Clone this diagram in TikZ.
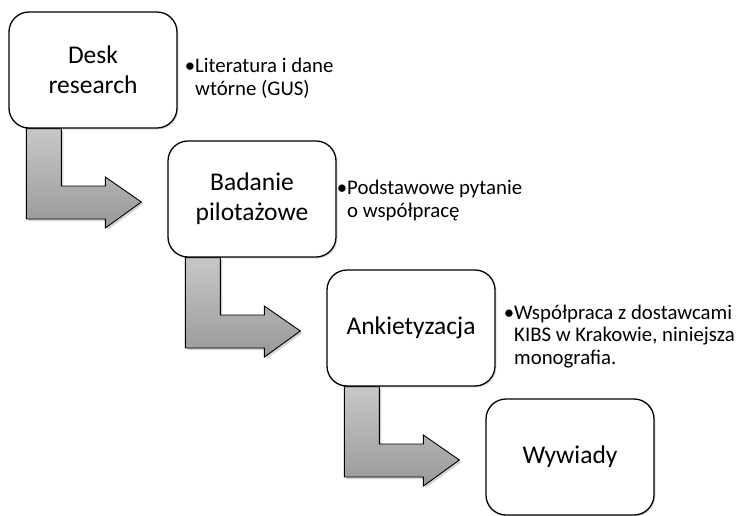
\documentclass[tikz,border=0pt]{standalone}
\usepackage{fontspec}
\setmainfont{Carlito}
\usetikzlibrary{calc,shadows,backgrounds}

% zagięta strzałka od dołu pola #1 do lewego boku pola #2
\newcommand{\strzalka}[2]{%
  \begin{pgfonlayer}{background}
    \path let \p1=(#1.south west), \p2=(#2.west) in
      [strz] (\x1+18pt,\y1) -- (\x1+18pt,\y2-20pt) -- (\x2-62pt,\y2-20pt)
      -- (\x2-62pt,\y2-29pt) -- (\x2-26pt,\y2-3pt) -- (\x2-62pt,\y2+22pt)
      -- (\x2-62pt,\y2+13pt) -- (\x1+53pt,\y2+13pt) -- (\x1+53pt,\y1) -- cycle;
  \end{pgfonlayer}}

\begin{document}
\begin{tikzpicture}[x=1pt, y=-1pt,
  pole/.style={draw, line width=1.3pt, rounded corners=20pt, fill=white,
    minimum width=168pt, minimum height=116pt, inner sep=0pt, align=center,
    font=\fontsize{25.5}{30}\selectfont,
    drop shadow={shadow xshift=1.5pt, shadow yshift=-1.5pt, opacity=0.25}},
  opis/.style={anchor=base west, inner sep=0pt, align=left,
    font=\fontsize{20.8}{22.5}\selectfont},
  strz/.style={draw=black, line width=0.9pt, top color=black!22, bottom color=black!40,
    drop shadow={shadow xshift=2pt, shadow yshift=-2pt, opacity=0.35}}]
  \useasboundingbox (0,0) rectangle (739,515);
  % pola
  \node[pole] (desk) at (93,70) {Desk\\research};
  \node[pole] (pilot) at (252,199) {Badanie\\pilotażowe};
  \node[pole] (ankieta) at (411,328) {Ankietyzacja};
  \node[pole] (wywiad) at (570,457) {Wywiady};
  % strzałki
  \strzalka{desk}{pilot}
  \strzalka{pilot}{ankieta}
  \strzalka{ankieta}{wywiad}
  % opisy (base = linia bazowa ostatniego wiersza)
  \node[opis] (o1) at (195,95) {\llap{•}Literatura i dane\\wtórne (GUS)};
  \node[opis] (o2) at (347,217) {\llap{•}Podstawowe pytanie\\o współpracę};
  \node[opis] (o3) at (514,364) {\llap{•}Współpraca z dostawcami\\KIBS w Krakowie, niniejsza\\monografia.};
\end{tikzpicture}
\end{document}
